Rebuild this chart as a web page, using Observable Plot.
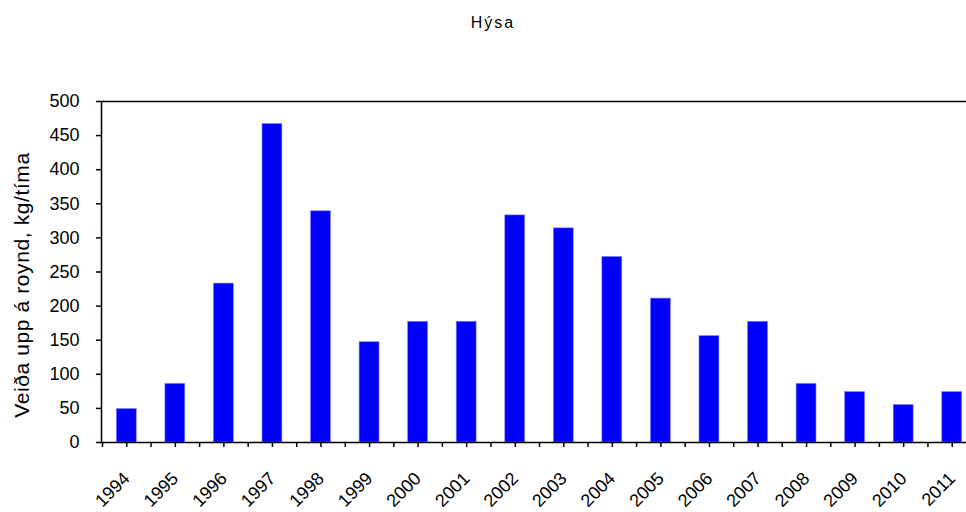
<!DOCTYPE html>
<html>
<head>
<meta charset="utf-8">
<script src="https://cdn.jsdelivr.net/npm/d3@7"></script>
<script src="https://cdn.jsdelivr.net/npm/@observablehq/plot@0.6"></script>
<style>
  html, body { margin: 0; padding: 0; background: #fff; }
  #wrap { position: relative; width: 966px; height: 512px; overflow: hidden; }
  #title { position: absolute; left: 0; width: 986px; top: 14px; text-align: center;
           font-family: "Liberation Sans", Arial, sans-serif; font-size: 16px; letter-spacing: 2px; color: #000; }
  #ylabel { position: absolute; left: 22px; top: 285px; width: 400px; margin-left: -200px; margin-top: -12px;
            text-align: center; transform: rotate(-90deg); white-space: nowrap;
            font-family: "Liberation Sans", Arial, sans-serif; font-size: 21px; letter-spacing: 0.6px; line-height: 24px; color: #000; }
  #chart { position: absolute; left: 0; top: 0; }
</style>
</head>
<body>
<div id="wrap">
  <div id="chart"></div>
  <div id="title">Hýsa</div>
  <div id="ylabel"></div>
</div>
<script>
const years = ["1994","1995","1996","1997","1998","1999","2000","2001","2002","2003","2004","2005","2006","2007","2008","2009","2010","2011"];
const values = [49, 86, 233, 467, 339, 147, 177, 177, 333, 314, 272, 211, 156, 177, 86, 74, 55, 74];
const yTicks = [0, 50, 100, 150, 200, 250, 300, 350, 400, 450, 500];
const yLabel = "Veiða upp á roynd, kg/tíma";

document.getElementById("ylabel").textContent = yLabel;

const data = years.map((y, i) => ({year: y, value: values[i]}));
const xRange = [102, 976];
const band = (xRange[1] - xRange[0]) / years.length;

const plot = Plot.plot({
  width: 966,
  height: 512,
  marginTop: 101,
  marginBottom: 70,
  marginLeft: 101,
  marginRight: 0,
  style: {fontFamily: "'Liberation Sans', Arial, sans-serif", fontSize: "18px", color: "#000", background: "#fff"},
  x: {domain: years, range: xRange, round: false, paddingInner: 0.59, paddingOuter: 0.295, label: null},
  y: {domain: [0, 500], label: null},
  marks: [
    Plot.barY(data, {x: "year", y: "value", fill: "#0000ff", stroke: "#8080ff", strokeWidth: 0.6}),
    Plot.axisY({ticks: yTicks, tickSize: 5, tickPadding: 17, tickFormat: d => String(d), stroke: "#000", strokeWidth: 1.5, style: {letterSpacing: "1.5px"}}),
    Plot.axisX({tickSize: 5, tickPadding: 28, tickRotate: -45, stroke: "#000", strokeWidth: 1.5, style: {letterSpacing: "1.5px"}}),
    Plot.axisX({tickSize: 5, text: null, dx: -band / 2, stroke: "#000", strokeWidth: 1.5}),
    Plot.frame({anchor: "left", stroke: "#000", strokeWidth: 1.5}),
    Plot.frame({anchor: "top", stroke: "#000", strokeWidth: 1.5}),
    Plot.frame({anchor: "bottom", stroke: "#000", strokeWidth: 1.5})
  ]
});
document.getElementById("chart").appendChild(plot);
</script>
</body>
</html>
